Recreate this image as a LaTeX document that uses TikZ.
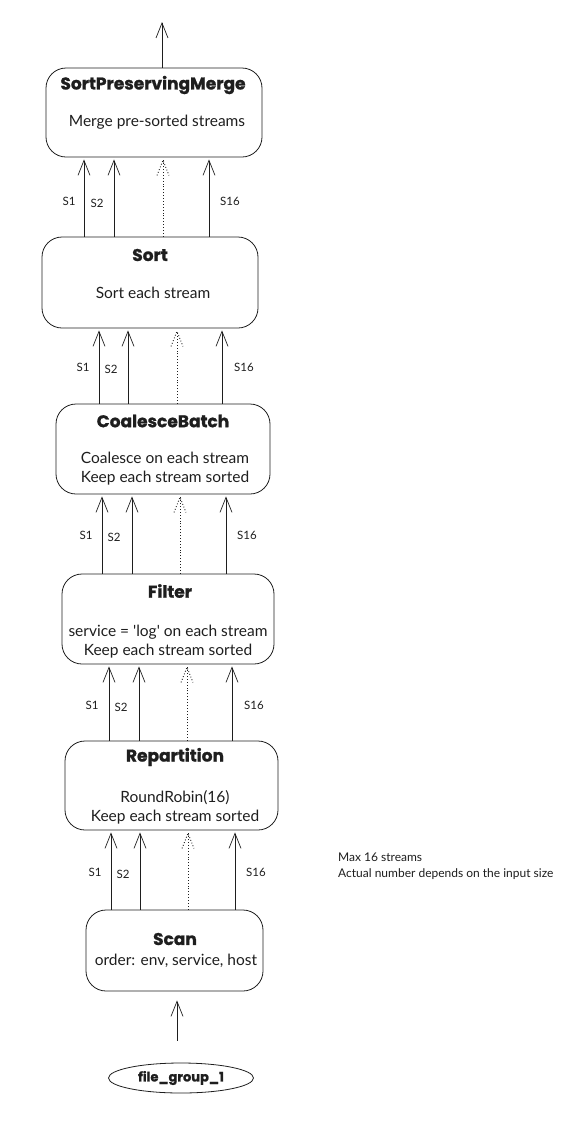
\documentclass[tikz,border=0pt]{standalone}
\usepackage{fontspec}
\setmainfont{Lato}
\newfontfamily\titlefont[BoldFeatures={FakeBold=1.2}]{Poppins}
\usetikzlibrary{arrows.meta,shapes.geometric,calc}
\definecolor{ink}{HTML}{1E1E1E}
\tikzset{
  opbox/.style={draw=ink, line width=0.8pt, rounded corners=20pt, inner sep=0pt},
  ttl/.style={font=\titlefont\bfseries\fontsize{17}{20}\selectfont, text=ink, inner sep=0pt},
  body/.style={font=\fontsize{15.5}{19}\selectfont, text=ink, inner sep=0pt, align=center},
  slab/.style={font=\fontsize{11.5}{13}\selectfont, text=ink, inner sep=0pt},
  arr/.style={draw=ink, line width=0.7pt, -{Straight Barb[length=15pt,width=12pt,line width=0.7pt]}, shorten >=2pt},
  dots/.style={draw=ink, line width=0.9pt, dotted},
}
\newcommand{\dotarrow}[3]{% x, from node (bottom), to node (top)
  \draw[dots] (#1,0 |- #2.north) -- ($(#1,0 |- #3.south)+(0,3)$);
  \draw[dots] ($(#1,0 |- #3.south)+(-6,18)$) -- ($(#1,0 |- #3.south)+(0,3)$) -- ($(#1,0 |- #3.south)+(6,18)$);
}
\begin{document}
\begin{tikzpicture}[x=1pt,y=-1pt]
\useasboundingbox (0,0) rectangle (578,1128);
% boxes
\node[opbox, minimum width=216pt, minimum height=89pt] (b1) at (154,112.5) {};
\node[opbox, minimum width=216pt, minimum height=91pt] (b2) at (150,282.5) {};
\node[opbox, minimum width=214pt, minimum height=90pt] (b3) at (163,449) {};
\node[opbox, minimum width=212pt, minimum height=90pt] (b4) at (168,619) {};
\node[opbox, minimum width=213pt, minimum height=89pt] (b5) at (171.5,785.5) {};
\node[opbox, minimum width=177pt, minimum height=81pt] (b6) at (174.5,950.5) {};
\node[draw=ink, line width=0.8pt, ellipse, minimum width=145pt, minimum height=30pt, inner sep=0pt] (fg) at (181,1078) {};
% texts
\node[ttl] (t1) at (153,85) {SortPreservingMerge};
\node[body] (d1) at (157,122) {Merge pre-sorted streams};
\node[ttl] (t2) at (150,255) {Sort};
\node[body] (d2) at (153,293) {Sort each stream};
\node[ttl] (t3) at (163,421) {CoalesceBatch};
\node[body] (d3) at (165,468.5) {Coalesce on each stream\\Keep each stream sorted};
\node[ttl] (t4) at (170,591) {Filter};
\node[body] (d4) at (168,642) {service = \textquotesingle log\textquotesingle{} on each stream\\Keep each stream sorted};
\node[ttl] (t5) at (175,757) {Repartition};
\node[body] (d5) at (175,807.5) {RoundRobin(16)\\Keep each stream sorted};
\node[ttl] (t6) at (175,939) {Scan};
\node[body] (d6) at (176,961) {order: env, service, host};
\node[ttl, font=\titlefont\bfseries\fontsize{13}{16}\selectfont] (t7) at (181,1078) {file\_group\_1};
\node[slab, anchor=west, align=left, font=\fontsize{12}{16}\selectfont] (note) at (338,866) {Max 16 streams\\Actual number depends on the input size};
% output arrow
\coordinate (out) at (162,22);
\draw[arr, shorten >=0pt] (162,0 |- b1.north) -- (out);
% stream arrows
\foreach \up/\dn/\xa/\xb/\xd/\xe in {b1/b2/84/114/163/209, b2/b3/99/128/177/222, b3/b4/102/132/180/226, b4/b5/109/139/187/232, b5/b6/111/140/188/235}{
  \draw[arr] (\xa,0 |- \dn.north) -- (\xa,0 |- \up.south);
  \draw[arr] (\xb,0 |- \dn.north) -- (\xb,0 |- \up.south);
  \draw[arr] (\xe,0 |- \dn.north) -- (\xe,0 |- \up.south);
  \dotarrow{\xd}{\dn}{\up}
}
\draw[arr, shorten >=0pt] (fg.north) ++(-4,-22) coordinate (fgtop) (177,0 |- fgtop) -- ($(177,0 |- b6.south)+(0,9)$);
% labels
\node[slab] (l11) at (69,201) {S1};
\node[slab] (l12) at (97,203) {S2};
\node[slab] (l13) at (230,201) {S16};
\node[slab] (l21) at (83,367) {S1};
\node[slab] (l22) at (111,369) {S2};
\node[slab] (l23) at (244,367) {S16};
\node[slab] (l31) at (86,535) {S1};
\node[slab] (l32) at (114,537) {S2};
\node[slab] (l33) at (247,535) {S16};
\node[slab] (l41) at (92,705) {S1};
\node[slab] (l42) at (121,707) {S2};
\node[slab] (l43) at (254,705) {S16};
\node[slab] (l51) at (95,872) {S1};
\node[slab] (l52) at (123,874) {S2};
\node[slab] (l53) at (256,872) {S16};
\end{tikzpicture}
\end{document}
